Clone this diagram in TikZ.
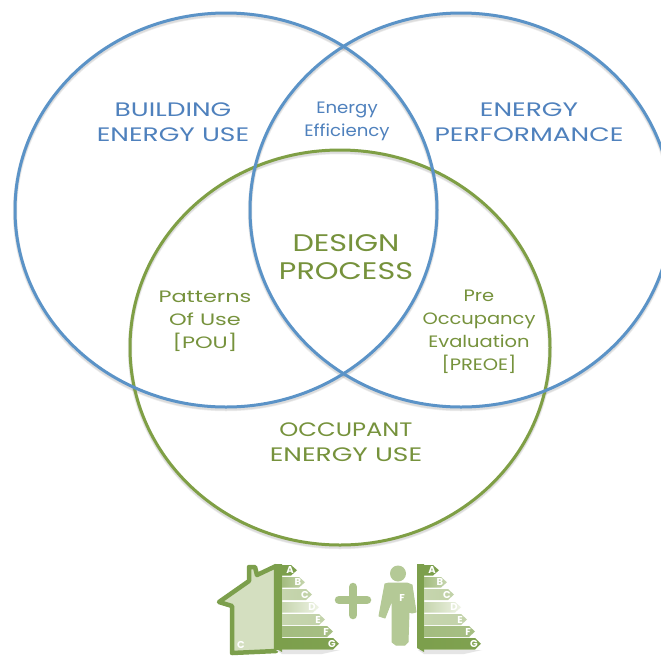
\documentclass[tikz,border=0pt]{standalone}
\usepackage{fontspec}
\setmainfont{Poppins}
\newfontfamily\widefont[FakeStretch=1.36]{Poppins}
\newfontfamily\occfont[FakeStretch=1.24]{Poppins}
\newfontfamily\midfont[FakeStretch=1.26]{Poppins}
\newfontfamily\smallfont[FakeStretch=1.18]{Poppins}
\newfontfamily\tightfont[FakeStretch=1.1]{Poppins}
\usetikzlibrary{calc}
\definecolor{vblue}{HTML}{5B93C7}
\definecolor{vgreen}{HTML}{7F9F45}
\definecolor{tblue}{HTML}{4F81BD}
\definecolor{tgreen}{HTML}{76923C}
\definecolor{ldark}{HTML}{7C9F4C}
\definecolor{lmid}{HTML}{A3BC7F}
\definecolor{lpale}{HTML}{C6D5AE}
\definecolor{lvery}{HTML}{EEF3E4}
\definecolor{lhouse}{HTML}{D4DFC0}
\definecolor{lman}{HTML}{B4C996}
\tikzset{
 x=1pt,y=-1pt,
 blueset/.style={draw=vblue,line width=3pt},
 greenset/.style={draw=vgreen,line width=3pt},
 shadowset/.style={draw=black,line width=#1,opacity=.07},
 bigblue/.style={text=tblue,font=\widefont\fontsize{19.5}{25}\selectfont,align=center,inner sep=0pt},
 biggreen/.style={text=tgreen,font=\widefont\fontsize{19.5}{24.5}\selectfont,align=center,inner sep=0pt},
 smallblue/.style={text=tblue,font=\tightfont\fontsize{16.5}{23}\selectfont,align=center,inner sep=0pt},
 smallgreen/.style={text=tgreen,font=\smallfont\fontsize{16.5}{23}\selectfont,align=center,inner sep=0pt},
 tag/.style={text=white,font=\fontsize{10}{10}\bfseries\selectfont,inner sep=0pt},
}
\newcommand{\energybar}[6]{% y top, y bottom, tip, colour left, colour right, letter
 \shade[left color=#4,right color=#5] (0,#1) -- ({#3-6},#1) -- (#3,{(#1+#2)/2}) -- ({#3-6},#2) -- (0,#2) -- cycle;
 \node[tag] at ({#3-7},{(#1+#2)/2}) {#6};}
\newcommand{\labelbars}[1]{%
 \begin{scope}[shift={(#1,0)}]
 \fill[black!10] (-6,650) -- (58,650) -- (40,654) -- (0,654) -- cycle;
 \fill[ldark] (-7,564) -- (-7,648) -- (0,652) -- (0,564) -- cycle;
 \energybar{565}{575.5}{15}{ldark}{ldark}{A}
 \energybar{577}{587.5}{23}{lmid}{lpale}{B}
 \energybar{589}{600}{30}{lpale}{lpale!85!lmid}{C}
 \energybar{602}{612.5}{37}{lpale}{lvery}{D}
 \energybar{614}{625}{43}{lpale}{lpale!90!lmid}{E}
 \energybar{626}{637}{51}{lmid}{lmid!90!lpale}{F}
 \energybar{638}{649.5}{57}{ldark}{ldark!90!lmid}{G}
 \end{scope}}
\begin{document}
\begin{tikzpicture}
\useasboundingbox (0,0) rectangle (661,657);
\fill[white] (0,0) rectangle (661,657);
% soft shadows
\foreach \w in {3pt,4.5pt}{
 \draw[shadowset=\w] (226,212) ellipse [x radius=211,y radius=197];
 \draw[shadowset=\w] (461,212) ellipse [x radius=211,y radius=197];
 \draw[shadowset=\w] (340,349.5) ellipse [x radius=210,y radius=197.5];
}
% circles
\draw[greenset] (340,347.5) ellipse [x radius=210,y radius=197.5];
\draw[blueset] (226,210) ellipse [x radius=211,y radius=197];
\draw[blueset] (461,210) ellipse [x radius=211,y radius=197];
% texts
\node[bigblue] (beu) at (173,122) {BUILDING\\ENERGY USE};
\node[bigblue] (ep) at (529,122) {ENERGY\\PERFORMANCE};
\node[smallblue] (ee) at (347,121) {Energy\\Efficiency};
\node[biggreen,font=\midfont\fontsize{24}{28}\selectfont] (dp) at (346,257) {DESIGN\\PROCESS};
\node[smallgreen,font=\widefont\fontsize{16.5}{23}\selectfont] (pou) at (205,321) {Patterns\\Of Use\\{}[POU]};
\node[smallgreen] (pre) at (479,332) {Pre\\Occupancy\\Evaluation\\{}[PREOE]};
\node[biggreen] (oeu) at (346,442) {{\occfont OCCUPANT}\\ENERGY USE};
% house
\fill[lhouse,draw=ldark,line width=4.5pt,line join=round]
 (219,602) -- (249,581) -- (249,567) -- (255,567) -- (257,575) -- (276,566)
 -- (276,651) -- (232,653) -- (232,606) -- cycle;
\node[tag] (tCh) at (241,645) {C};
\labelbars{282}
% plus
\draw[lman!85!ldark,line width=8.5pt,line cap=round] (339,600) -- (367,600) (353,587) -- (353,615);
% man
\fill[lman] (398,573.5) circle [radius=8];
\fill[lman,line join=round,draw=lman,line width=1pt]
 (389,583) -- (385,584) -- (379,616) -- (385,618) -- (392,600) -- (392,642) -- (396,645) -- (405,645) -- (408,642) -- (409,612) -- (412,613) -- (416,612) -- (412,585) -- (407,583) -- cycle;
\node[tag] (tFm) at (402,598) {F};
\labelbars{424}
\end{tikzpicture}
\end{document}
